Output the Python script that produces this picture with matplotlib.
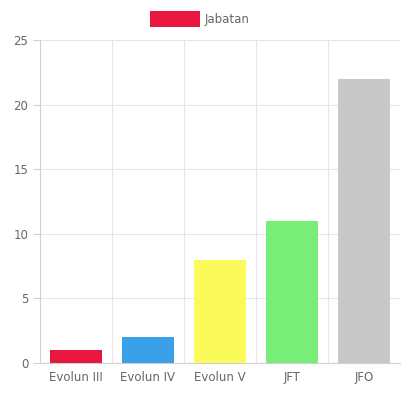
import matplotlib.pyplot as plt
from matplotlib.patches import Patch
import numpy as np

categories = ["Evolun III", "Evolun IV", "Evolun V", "JFT", "JFO"]
values = [1, 2, 8, 11, 22]
colors = ["#E8173F", "#3AA0EA", "#FAFA5A", "#78EE78", "#C8C8C8"]
y_ticks = [0, 5, 10, 15, 20, 25]
legend_label = "Jabatan"

fig = plt.figure(figsize=(4.05, 3.93), dpi=100)
ax = fig.add_axes([40 / 405, 1 - 363 / 393, 360 / 405, 323 / 393])

x = np.arange(len(categories))
ax.bar(x, values, width=0.73, color=colors, zorder=3)

ax.set_xlim(-0.5, len(categories) - 0.5)
ax.set_ylim(0, 25)
ax.set_yticks(y_ticks)
ax.set_xticks(x)
ax.set_xticklabels(categories)

# gridlines at category boundaries, like chart.js
for b in np.arange(-0.5, len(categories), 1.0):
    ax.axvline(b, color="#e6e6e6", lw=0.8, zorder=0)
for t in y_ticks:
    ax.axhline(t, color="#e6e6e6", lw=0.8, zorder=0)

for s in ["top", "right"]:
    ax.spines[s].set_visible(False)
ax.spines["left"].set_color("#d0d0d0")
ax.spines["bottom"].set_color("#d0d0d0")
ax.tick_params(axis="both", colors="#d0d0d0", labelcolor="#666666",
               labelsize=8.5, length=5, width=0.8)
ax.tick_params(axis="x", length=0, pad=6)

handle = Patch(facecolor=colors[0], edgecolor="none")
fig.legend([handle], [legend_label], loc="center", bbox_to_anchor=(0.493, 1 - 19 / 393),
           frameon=False, fontsize=8.5, handlelength=4.2, handleheight=1.7,
           handletextpad=0.4, labelcolor="#666666")

fig.savefig("out.png", dpi=100)
